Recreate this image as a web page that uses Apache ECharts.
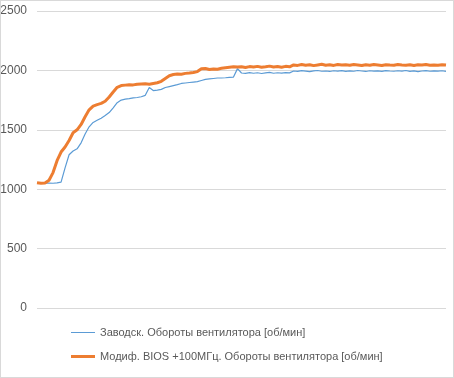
<!DOCTYPE html>
<html>
<head>
<meta charset="utf-8">
<script src="https://cdn.jsdelivr.net/npm/echarts@6/dist/echarts.min.js"></script>
<style>
  html, body { margin: 0; padding: 0; background: #fff; }
  #chart { width: 454px; height: 378px; box-sizing: border-box; border: 1px solid #d9d9d9; }
</style>
</head>
<body>
<div id="chart"></div>
<script>
// y axis ticks
const yTicks = [0, 500, 1000, 1500, 2000, 2500];

// series names
const nameStock = 'Заводск. Обороты вентилятора [об/мин]';
const nameMod = 'Модиф. BIOS +100МГц. Обороты вентилятора [об/мин]';

// samples (time steps)
const stockRpm = [
  1052, 1050, 1048, 1052, 1050, 1054, 1060, 1180, 1290, 1322,
  1340, 1390, 1465, 1525, 1562, 1580, 1598, 1620, 1645, 1685,
  1728, 1750, 1758, 1762, 1768, 1772, 1778, 1790, 1856, 1830,
  1834, 1840, 1856, 1864, 1872, 1880, 1890, 1894, 1898, 1902,
  1906, 1915, 1924, 1928, 1932, 1936, 1936, 1938, 1942, 1944,
  2015, 1978, 1975, 1982, 1976, 1980, 1974, 1979, 1983, 1976,
  1980, 1977, 1981, 1979, 1995, 1992, 1998, 1994, 1990, 1996,
  1999, 1993, 1995, 1991, 1997, 1994, 1998, 1992, 1996, 1993,
  1999, 1995, 1991, 1997, 1994, 1996, 1992, 1998, 1995, 1993,
  1997, 1994, 1999, 1992, 1996, 1990, 1995, 1998, 1993, 1996,
  1994, 1997, 1992
];

const modRpm = [
  1055, 1050, 1052, 1075, 1140, 1240, 1313, 1355, 1410, 1475,
  1500, 1545, 1610, 1668, 1700, 1712, 1722, 1740, 1776, 1818,
  1858, 1872, 1876, 1880, 1878, 1884, 1886, 1888, 1884, 1890,
  1896, 1908, 1932, 1955, 1965, 1970, 1968, 1975, 1978, 1982,
  1990, 2014, 2016, 2008, 2012, 2010, 2018, 2022, 2026, 2030,
  2028, 2030, 2024, 2032, 2028, 2034, 2026, 2030, 2036, 2028,
  2032, 2026, 2034, 2030, 2046, 2042, 2050, 2044, 2048, 2040,
  2046, 2052, 2044, 2048, 2042, 2050, 2045, 2047, 2043, 2049,
  2046, 2041, 2048, 2044, 2050, 2046, 2042, 2048, 2045, 2043,
  2049, 2046, 2044, 2048, 2042, 2047, 2045, 2050, 2043, 2046,
  2044, 2048, 2045
];

const steps = stockRpm.map((_, i) => i + 1);

const font = '"Liberation Sans", sans-serif';

const chart = echarts.init(document.getElementById('chart'));

const option = {
  animation: false,
  grid: { left: 36, right: 7, top: 10, bottom: 69, outerBoundsMode: 'none' },
  legend: {
    orient: 'vertical',
    left: 65,
    top: 321,
    itemWidth: 24,
    itemHeight: 14,
    itemGap: 13,
    symbolKeepAspect: true,
    textStyle: { color: '#595959', fontSize: 11, fontFamily: font },
    data: [
      { name: nameStock, icon: 'path://M0,0L24,0L24,1L0,1Z' },
      { name: nameMod, icon: 'path://M0,0L24,0L24,3L0,3Z' }
    ]
  },
  xAxis: {
    type: 'category',
    data: steps,
    boundaryGap: false,
    axisLine: { show: false },
    axisTick: { show: false },
    axisLabel: { show: false },
    splitLine: { show: false }
  },
  yAxis: {
    type: 'value',
    min: yTicks[0],
    max: yTicks[yTicks.length - 1],
    interval: 500,
    axisLine: { show: false },
    axisTick: { show: false },
    axisLabel: { color: '#595959', fontSize: 12, fontFamily: font, margin: 10, formatter: v => String(v) },
    splitLine: { lineStyle: { color: '#d9d9d9', width: 1 } }
  },
  series: [
    {
      name: nameStock,
      type: 'line',
      data: stockRpm,
      showSymbol: false,
      symbol: 'none',
      lineStyle: { color: '#5b9bd5', width: 1.2 },
      itemStyle: { color: '#5b9bd5' }
    },
    {
      name: nameMod,
      type: 'line',
      data: modRpm,
      showSymbol: false,
      symbol: 'none',
      lineStyle: { color: '#ed7d31', width: 3 },
      itemStyle: { color: '#ed7d31' }
    }
  ]
};

chart.setOption(option);
</script>
</body>
</html>
